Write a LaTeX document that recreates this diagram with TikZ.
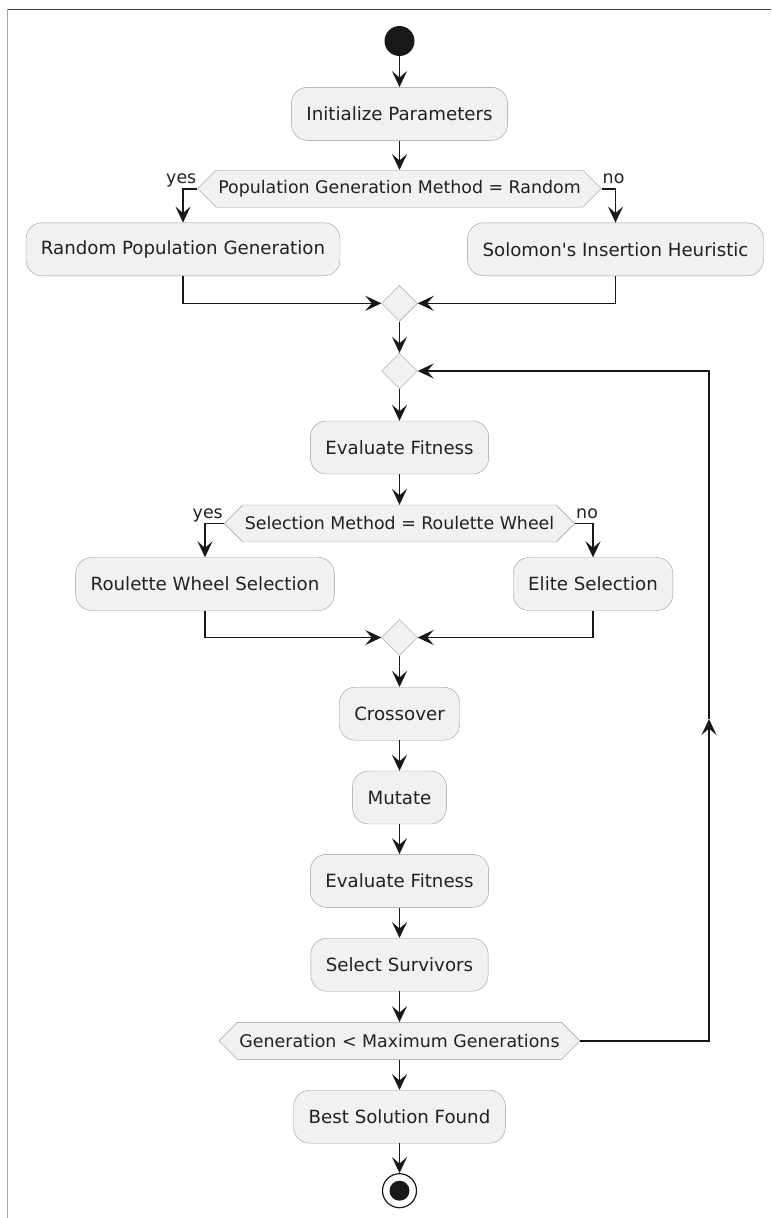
\documentclass[tikz,border=0pt]{standalone}
\usepackage{fontspec}
\setmainfont{DejaVu Sans}
\usepackage{tikz}
\usetikzlibrary{shapes.geometric,shapes.symbols,arrows.meta}
\definecolor{actfill}{HTML}{F1F1F1}
\definecolor{actline}{HTML}{9A9A9A}
\definecolor{flowline}{HTML}{181818}
\newcommand{\actsize}{\fontsize{18.2}{22}\selectfont}
\newcommand{\decsize}{\fontsize{17.4}{21}\selectfont}
\newcommand{\mainx}{399.5}
\newcommand{\loopx}{709}

\begin{document}
\begin{tikzpicture}[x=1pt,y=-1pt,
  act/.style={draw=actline, fill=actfill, rounded corners=16pt, minimum height=53pt, inner xsep=15pt, font=\actsize, text=black!87},
  dec/.style={signal, signal to=east and west, signal pointer angle=90, draw=actline, fill=actfill, minimum height=37pt, inner xsep=2pt, font=\decsize, text=black!87},
  merge/.style={diamond, draw=actline, fill=actfill, minimum width=36pt, minimum height=36pt, inner sep=0pt},
  flow/.style={draw=flowline, line width=1.6pt, -{Stealth[length=16pt,width=15pt,inset=6.5pt]}},
  branch/.style={font=\decsize, text=black!87, inner sep=1pt}]

\useasboundingbox (0,0) rectangle (771,1218);
\draw [black!75, line width=1.2pt] (7,9.3) -- (771,9.3);
\draw [gray!70, line width=1pt] (7.3,9.3) -- (7.3,1218);

\node [circle, fill=flowline, minimum size=30pt, inner sep=0pt] (start) at (\mainx,41) {};
\node [act] (init) at (\mainx,113.8) {Initialize Parameters};
\node [dec] (dec1) at (\mainx,188.7) {Population Generation Method = Random};
\node [act] (rpg) at (183,249.3) {Random Population Generation};
\node [act] (sol) at (615.5,249.3) {Solomon\textquotesingle s Insertion Heuristic};
\node [merge] (m1) at (\mainx,303.3) {};
\node [merge] (m2) at (\mainx,371) {};
\node [act] (eval1) at (\mainx,447.5) {Evaluate Fitness};
\node [dec] (dec2) at (\mainx,523.5) {Selection Method = Roulette Wheel};
\node [act] (rws) at (205,584) {Roulette Wheel Selection};
\node [act] (elite) at (593,584) {Elite Selection};
\node [merge] (m3) at (\mainx,637.5) {};
\node [act] (cross) at (\mainx,713.7) {Crossover};
\node [act] (mutate) at (\mainx,797.5) {Mutate};
\node [act] (eval2) at (\mainx,880.8) {Evaluate Fitness};
\node [act] (surv) at (\mainx,964.7) {Select Survivors};
\node [dec] (dec3) at (\mainx,1040.8) {Generation < Maximum Generations};
\node [act] (best) at (\mainx,1116.7) {Best Solution Found};
\node [circle, draw=flowline, line width=1.2pt, minimum size=34pt, inner sep=0pt,
  path picture={\fill [flowline] (path picture bounding box.center) circle (10pt);}] (stop) at (\mainx,1190.7) {};

\foreach \a/\b in {start/init, init/dec1, m1/m2, m2/eval1, eval1/dec2, m3/cross, cross/mutate, mutate/eval2, eval2/surv, surv/dec3, dec3/best, best/stop}
\draw [flow] (\a.south) -- (\b.north);

\draw [flow] (dec1.west) -| (rpg.north);
\draw [flow] (dec1.east) -| (sol.north);
\node [branch, anchor=base east] (yes1) at ([yshift=5.5pt]dec1.west) {yes};
\node [branch, anchor=base west] (no1) at ([yshift=5.5pt]dec1.east) {no};
\draw [flow] (rpg.south) |- (m1.west);
\draw [flow] (sol.south) |- (m1.east);

\draw [flow] (dec2.west) -| (rws.north);
\draw [flow] (dec2.east) -| (elite.north);
\node [branch, anchor=base east] (yes2) at ([yshift=5.5pt]dec2.west) {yes};
\node [branch, anchor=base west] (no2) at ([yshift=5.5pt]dec2.east) {no};
\draw [flow] (rws.south) |- (m3.west);
\draw [flow] (elite.south) |- (m3.east);

\coordinate (loopbot) at (\loopx,1040.8);
\coordinate (looptip) at (\loopx,719);
\coordinate (looptop) at (\loopx,371);
\draw [flow] (dec3.east) -- (loopbot) -- (looptip);
\draw [flow] (looptip) -- (looptop) -- (m2.east);
\end{tikzpicture}
\end{document}
